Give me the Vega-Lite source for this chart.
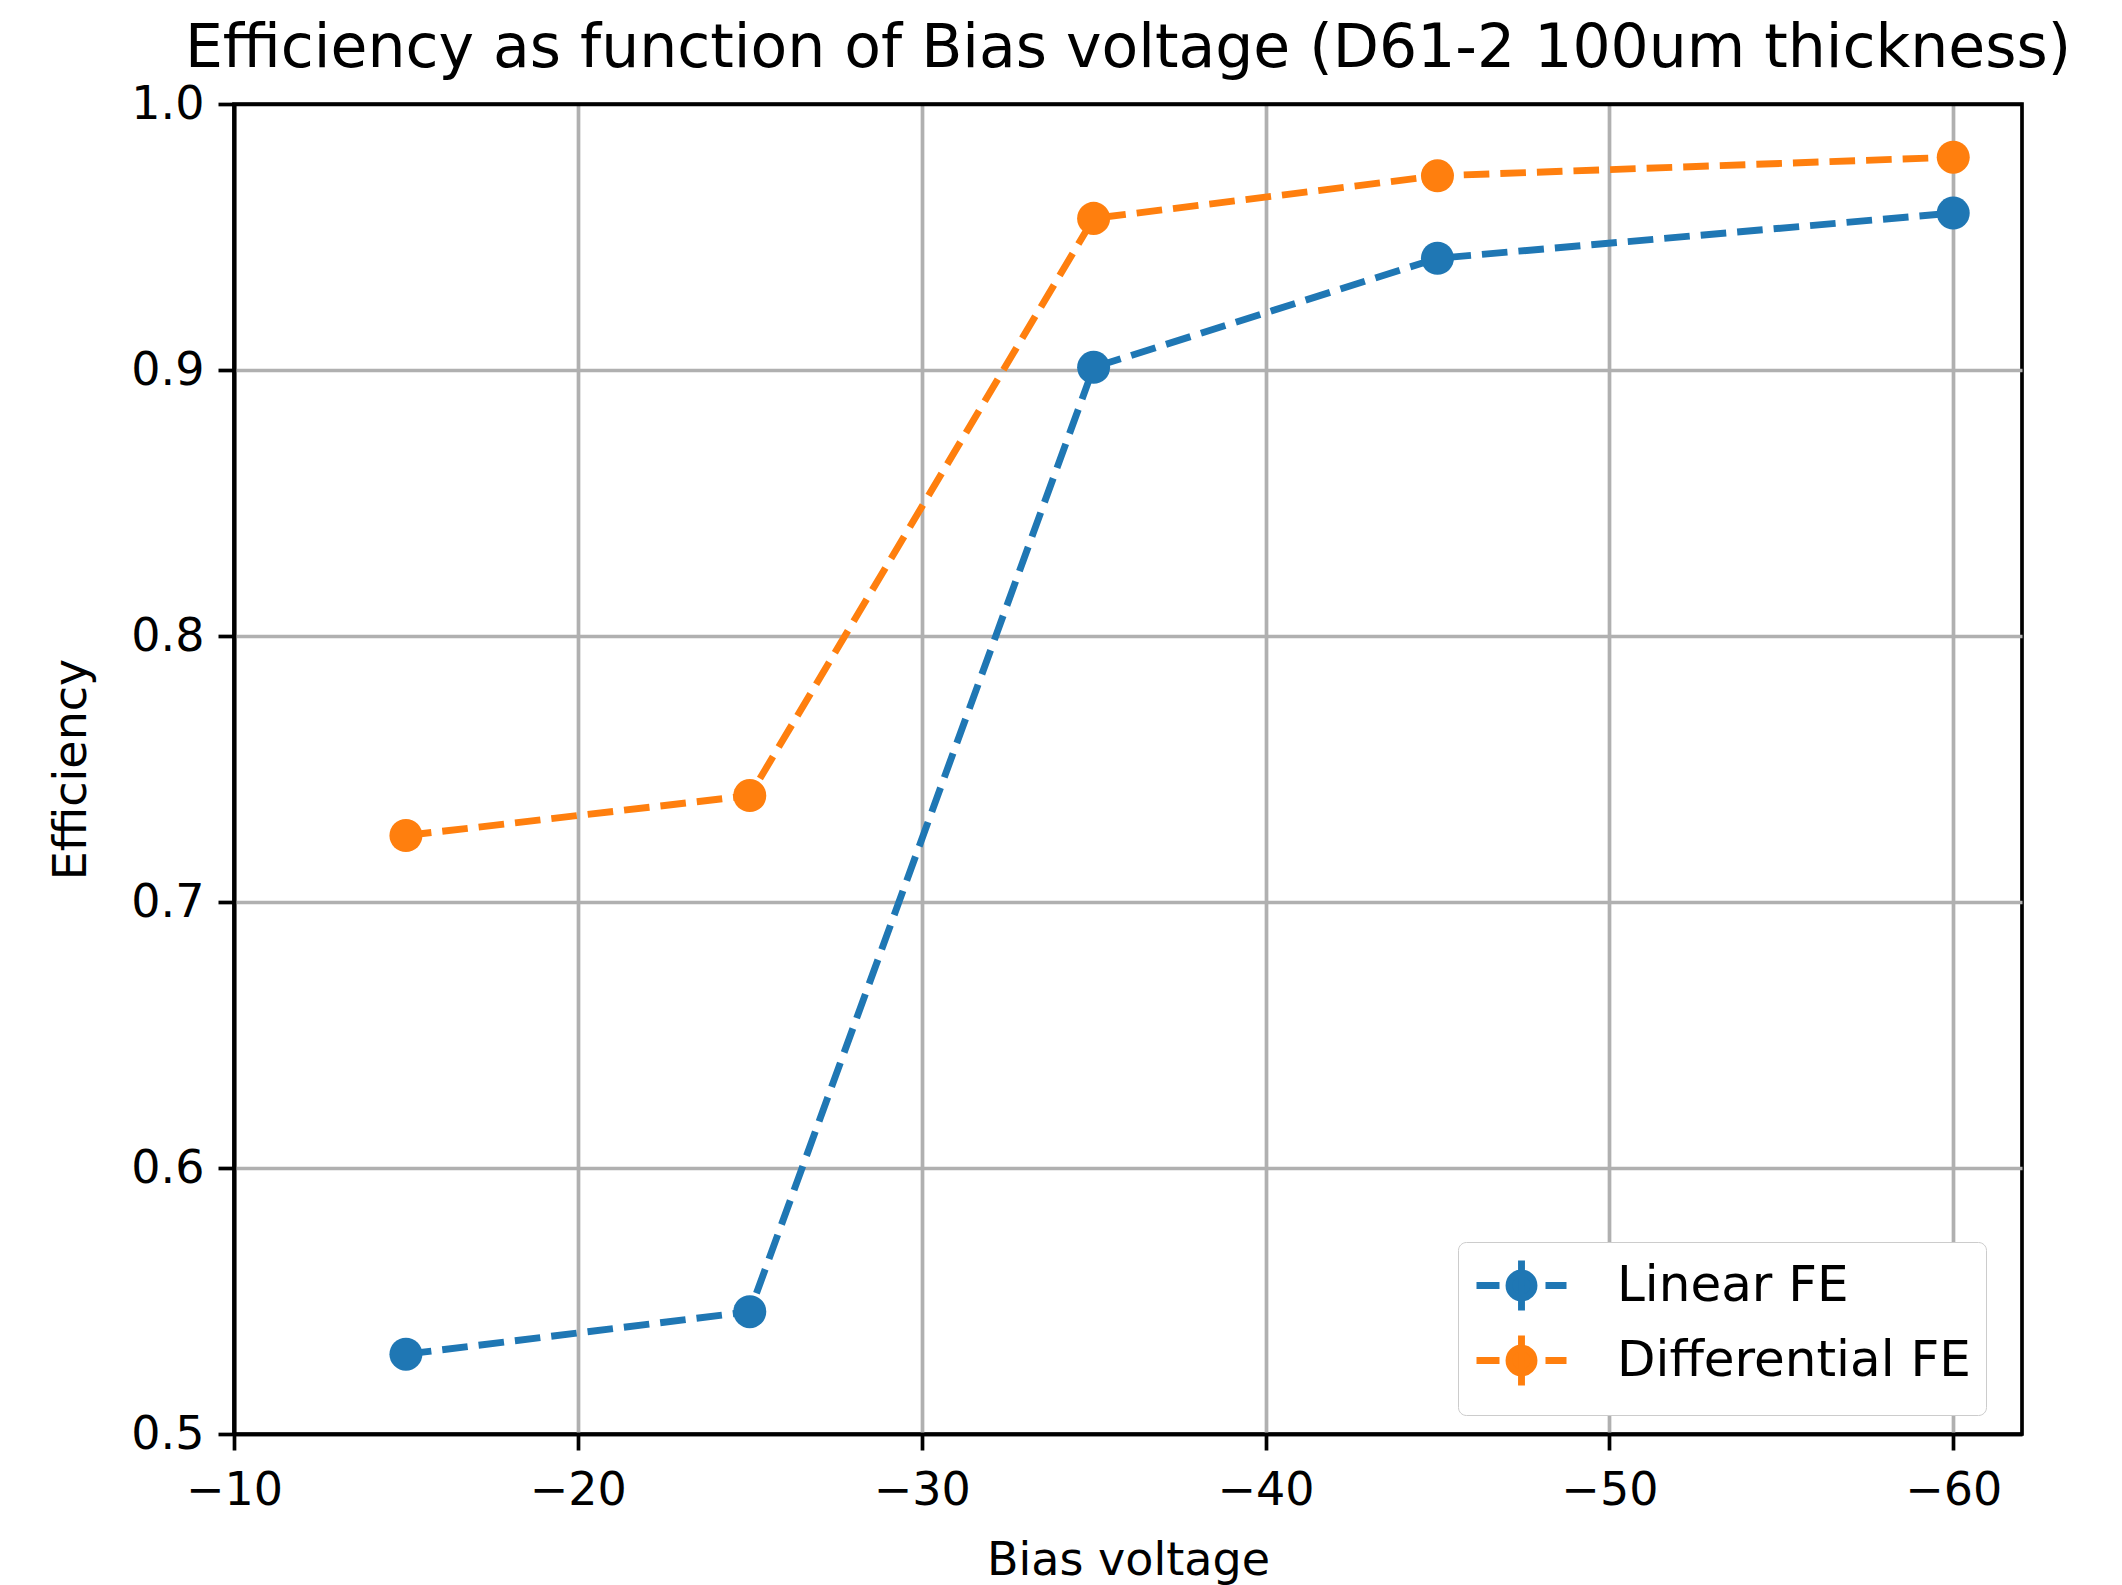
{
  "$schema": "https://vega.github.io/schema/vega-lite/v6.json",
  "width": 1788,
  "height": 1330,
  "autosize": {"type": "none"},
  "padding": {"left": 234, "top": 104, "right": 100, "bottom": 151},
  "background": "white",
  "title": {
    "text": "Efficiency as function of Bias voltage (D61-2 100um thickness)",
    "font": "DejaVu Sans",
    "fontSize": 60,
    "fontWeight": "normal",
    "color": "black",
    "anchor": "middle",
    "offset": 1
  },
  "config": {
    "view": {"stroke": "black", "strokeWidth": 3.7},
    "axis": {
      "domain": true,
      "domainColor": "black",
      "domainWidth": 3.7,
      "grid": true,
      "gridWidth": 3.7,
      "tickColor": "black",
      "tickWidth": 3.7,
      "tickSize": 16,
      "labelFlush": false,
      "labelFont": "DejaVu Sans",
      "labelFontSize": 46,
      "labelColor": "black",
      "labelPadding": 14,
      "titleFont": "DejaVu Sans",
      "titleFontSize": 46,
      "titleFontWeight": "normal",
      "titleColor": "black"
    }
  },
  "data": {
    "values": [
      {"bias": -15, "eff": 0.530, "series": "Linear FE"},
      {"bias": -25, "eff": 0.546, "series": "Linear FE"},
      {"bias": -35, "eff": 0.901, "series": "Linear FE"},
      {"bias": -45, "eff": 0.942, "series": "Linear FE"},
      {"bias": -60, "eff": 0.959, "series": "Linear FE"},
      {"bias": -15, "eff": 0.725, "series": "Differential FE"},
      {"bias": -25, "eff": 0.740, "series": "Differential FE"},
      {"bias": -35, "eff": 0.957, "series": "Differential FE"},
      {"bias": -45, "eff": 0.973, "series": "Differential FE"},
      {"bias": -60, "eff": 0.980, "series": "Differential FE"}
    ]
  },
  "encoding": {
    "x": {
      "field": "bias",
      "type": "quantitative",
      "scale": {"domain": [-10, -62], "nice": false, "zero": false},
      "axis": {
        "title": "Bias voltage",
        "values": [-10, -20, -30, -40, -50, -60],
        "labelPadding": 18,
        "titlePadding": 25,
        "gridColor": {"condition": {"test": "datum.value === -10", "value": "black"}, "value": "#b0b0b0"}
      }
    },
    "y": {
      "field": "eff",
      "type": "quantitative",
      "scale": {"domain": [0.5, 1.0], "nice": false, "zero": false},
      "axis": {
        "title": "Efficiency",
        "values": [0.5, 0.6, 0.7, 0.8, 0.9, 1.0],
        "format": ".1f",
        "titlePadding": 35,
        "gridColor": {"condition": {"test": "datum.value >= 0.999 || datum.value <= 0.501", "value": "black"}, "value": "#b0b0b0"}
      }
    },
    "color": {
      "field": "series",
      "type": "nominal",
      "scale": {"domain": ["Linear FE", "Differential FE"], "range": ["#1f77b4", "#ff7f0e"]},
      "legend": {
        "title": null,
        "orient": "none",
        "legendX": 1224,
        "legendY": 1138,
        "fillColor": "white",
        "strokeColor": "#cccccc",
        "cornerRadius": 8,
        "padding": 15,
        "labelFont": "DejaVu Sans",
        "labelFontSize": 50,
        "labelColor": "black",
        "labelLimit": 800,
        "labelOffset": 87,
        "rowPadding": -4,
        "symbolType": "M-1,0H-0.08M1.76,0H2.6M0.8,-1V1M1.3,0A0.5,0.5,0,1,1,0.3,0A0.5,0.5,0,1,1,1.3,0Z",
        "symbolSize": 2500,
        "symbolStrokeWidth": 6.9,
        "symbolDash": [],
        "symbolOpacity": 1,
        "encode": {
          "symbols": {
            "update": {
              "stroke": {"scale": "color", "field": "value"},
              "fill": {"scale": "color", "field": "value"},
              "strokeDash": {"value": []},
              "opacity": {"value": 1}
            }
          }
        }
      }
    }
  },
  "layer": [
    {
      "mark": {"type": "line", "strokeWidth": 6.9, "strokeDash": [25.6, 11]}
    },
    {
      "mark": {"type": "point", "shape": "circle", "filled": true, "opacity": 1, "size": 1090}
    }
  ]
}
